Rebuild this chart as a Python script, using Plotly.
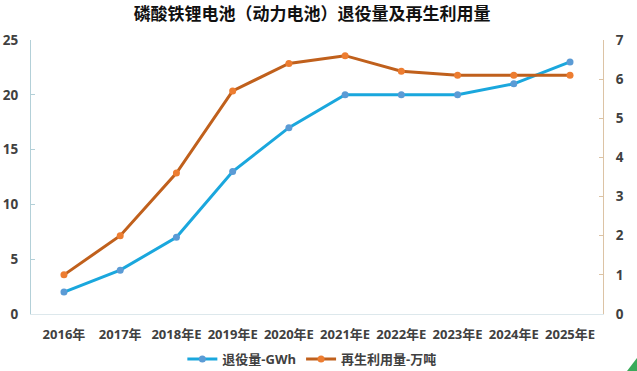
import plotly.graph_objects as go

categories = ["2016年", "2017年", "2018年E", "2019年E", "2020年E",
              "2021年E", "2022年E", "2023年E", "2024年E", "2025年E"]
retired_gwh = [2, 4, 7, 13, 17, 20, 20, 20, 21, 23]
recycled_wt = [1.0, 2.0, 3.6, 5.7, 6.4, 6.6, 6.2, 6.1, 6.1, 6.1]
left_ticks = [0, 5, 10, 15, 20, 25]
right_ticks = [0, 1, 2, 3, 4, 5, 6, 7]

FONT = "Open Sans, Noto Sans CJK SC, sans-serif"
TXT = "#404040"

fig = go.Figure()
fig.add_trace(go.Scatter(
    x=categories, y=retired_gwh, name="退役量-GWh", mode="lines+markers",
    line=dict(color="#1AA7DD", width=3),
    marker=dict(color="#5B9BD5", size=7),
    yaxis="y"))
fig.add_trace(go.Scatter(
    x=categories, y=recycled_wt, name="再生利用量-万吨", mode="lines+markers",
    line=dict(color="#C0601C", width=3),
    marker=dict(color="#ED7D31", size=7),
    yaxis="y2"))

fig.update_layout(
    width=637, height=371,
    margin=dict(l=31, r=34, t=40, b=57, autoexpand=False),
    paper_bgcolor="white", plot_bgcolor="white",
    font=dict(family=FONT, color=TXT, size=13),
    title=dict(text="磷酸铁锂电池（动力电池）退役量及再生利用量",
               x=0.49, xanchor="center", y=0.962, yanchor="middle",
               yref="container",
               font=dict(family=FONT, size=17, color="#111111", weight="bold")),
    xaxis=dict(type="category", showgrid=False, showline=True,
               linecolor="#dde8ec", linewidth=1, ticks="", automargin=False,
               tickfont=dict(size=13, weight="bold", color=TXT),
               ticklabelstandoff=8),
    yaxis=dict(range=[0, 25], tickvals=left_ticks, showgrid=False,
               showline=True, linecolor="#b3d0d8", linewidth=1,
               ticks="inside", ticklen=4, tickcolor="#b3d0d8", automargin=False,
               tickfont=dict(size=13.5, weight="bold", color=TXT),
               ticklabelstandoff=9, zeroline=False),
    yaxis2=dict(range=[0, 7], tickvals=right_ticks, overlaying="y",
                side="right", showgrid=False, showline=True,
                linecolor="#dcc3a5", linewidth=1, automargin=False,
                ticks="inside", ticklen=4, tickcolor="#dcc3a5",
                tickfont=dict(size=13.5, weight="bold", color=TXT),
                ticklabelstandoff=9, zeroline=False),
    legend=dict(orientation="h", x=0.491, xanchor="center", y=-0.164,
                yanchor="middle", itemwidth=30,
                font=dict(size=13, weight="bold", color=TXT)),
    showlegend=True,
    shapes=[dict(type="path", xref="paper", yref="paper",
                 path="M 1.0594 -0.161 L 1.0594 -0.208 L 1.042 -0.208 Z",
                 fillcolor="#3aaa5a", line=dict(width=0))],
)

fig.write_html("out.html",
               config={"displayModeBar": False},
               post_script="document.body.style.margin='0px';"
                           "document.body.style.overflow='hidden';")
